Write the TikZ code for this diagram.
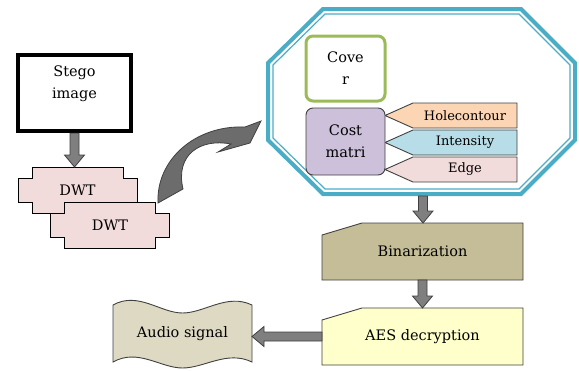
\documentclass[tikz,border=0pt]{standalone}
\usepackage{fontspec}
\setmainfont{DejaVu Serif}
\usetikzlibrary{positioning,calc,backgrounds}

\definecolor{dwtpink}{HTML}{F2DCDB}
\definecolor{octblue}{HTML}{4BACC6}
\definecolor{covergreen}{HTML}{9BBB59}
\definecolor{costlilac}{HTML}{CCC0DA}
\definecolor{tagorange}{HTML}{FCD5B5}
\definecolor{tagblue}{HTML}{B7DEE8}
\definecolor{binbrown}{HTML}{C4BD97}
\definecolor{aesyellow}{HTML}{FFFFCC}
\definecolor{audiobeige}{HTML}{DDD9C3}
\definecolor{arrowgrey}{HTML}{7F7F7F}
\definecolor{edgegrey}{HTML}{404040}

% block arrows between two named points
\newcommand\blockdown[2]{%
  \filldraw[blockarrow] let \p1=#1, \p2=#2 in
    (\x1-4.5pt,\y1) -- (\x1+4.5pt,\y1) -- (\x1+4.5pt,\y2+12pt) -- (\x1+10pt,\y2+12pt)
    -- (\x1,\y2) -- (\x1-10pt,\y2+12pt) -- (\x1-4.5pt,\y2+12pt) -- cycle;}
\newcommand\blockleft[2]{%
  \filldraw[blockarrow] let \p1=#1, \p2=#2 in
    (\x1,\y1+4.5pt) -- (\x2+12pt,\y1+4.5pt) -- (\x2+12pt,\y1+10pt) -- (\x2,\y1)
    -- (\x2+12pt,\y1-10pt) -- (\x2+12pt,\y1-4.5pt) -- (\x1,\y1-4.5pt) -- cycle;}
% outlines drawn round the nodes
\newcommand\notchpath[1]{([xshift=14pt]#1.north west) -- ([xshift=-14pt]#1.north east)
  -- ++(0,11) -- ++(14,0) -- ([yshift=11pt]#1.south east) -- ++(-14,0)
  -- ([xshift=-14pt]#1.south east) -- ([xshift=14pt]#1.south west) -- ++(0,-11)
  -- ++(-14,0) -- ([yshift=-11pt]#1.north west) -- ++(14,0) -- cycle}
\newcommand\cardpath[1]{([yshift=-12pt]#1.north west) -- ([xshift=40pt]#1.north west)
  -- (#1.north east) -- (#1.south east) -- (#1.south west) -- cycle}
\newcommand\tagpath[1]{(#1.north west) -- (#1.north east) -- (#1.south east)
  -- (#1.south west) -- ([xshift=-28pt]#1.west) -- cycle}

\begin{document}
\begin{tikzpicture}[x=1pt,y=-1pt,
    every node/.style={outer sep=0pt,inner sep=2pt,font=\fontsize{14.5}{22}\selectfont,align=center},
    stegobox/.style={draw,line width=4.5pt,outer sep=2.25pt,minimum width=113pt,minimum height=76pt},
    dwtbox/.style={minimum width=119pt,minimum height=46pt},
    roundbox/.style={rounded corners=7pt,minimum width=79pt},
    tagbox/.style={minimum width=104pt,minimum height=25pt,font=\fontsize{13}{15}\selectfont},
    cardbox/.style={minimum width=201pt,minimum height=57pt},
    shapeline/.style={draw=edgegrey,line width=0.9pt},
    blockarrow/.style={draw=edgegrey,fill=arrowgrey,line width=0.8pt},
    octline/.style={draw=octblue,line join=miter}]

  \useasboundingbox (0,0) rectangle (579,370);

  \node[stegobox] (stego) at (74.5,93) {};
  \node[below=11pt of stego.north] (stegotxt) {Stego\\image};

  \node[dwtbox] (dwt1) at (77.5,190) {DWT};
  \node[dwtbox] (dwt2) at (110,225) {DWT};

  \draw[octline,line width=4pt] (323,9) -- (521,9) -- (575,63) -- (575,140)
    -- (521,194) -- (323,194) -- (268,140) -- (268,63) -- cycle;
  \draw[octline,line width=1.2pt] (325,14) -- (519,14) -- (570,65) -- (570,138)
    -- (519,189) -- (325,189) -- (273,138) -- (273,65) -- cycle;
  \coordinate (frame) at (423,196);

  \node[roundbox,draw=covergreen,line width=3pt,fill=white,minimum height=65pt]
    (cover) at (345.5,68.5) {Cove\\r};
  \node[roundbox,draw=edgegrey,line width=0.9pt,fill=costlilac,minimum height=67pt,
    below=7pt of cover] (cost) {Cost\\matri};

  \node[tagbox] (hole) at (465,115.5) {Holecontour};
  \node[tagbox,below=2pt of hole] (inten) {Intensity};
  \node[tagbox,below=2pt of inten] (edge) {Edge};

  \node[cardbox] (bin) at (422.5,251.5) {Binarization};
  \node[cardbox] (aes) at (422.5,336.5) {AES decryption};
  \node[minimum width=139pt,minimum height=57pt] (audio) at (182.5,333.5) {Audio signal};

  \begin{scope}[on background layer]
    \draw[draw=black,line width=0.9pt,fill=dwtpink] \notchpath{dwt1};
    \draw[draw=black,line width=0.9pt,fill=dwtpink] \notchpath{dwt2};
    \draw[shapeline,fill=tagorange] \tagpath{hole};
    \draw[shapeline,fill=tagblue] \tagpath{inten};
    \draw[shapeline,fill=dwtpink] \tagpath{edge};
    \draw[shapeline,fill=binbrown] \cardpath{bin};
    \draw[shapeline,fill=aesyellow] \cardpath{aes};
    \draw[shapeline,fill=audiobeige] (audio.north west)
      .. controls +(25,-14) and +(-22,0) .. ([yshift=-8pt]audio.north)
      .. controls +(22,0) and +(-25,-12) .. (audio.north east)
      -- (audio.south east)
      .. controls +(-25,-12) and +(22,0) .. ([yshift=-6pt]audio.south)
      .. controls +(-22,0) and +(25,-14) .. (audio.south west) -- cycle;
  \end{scope}

  \blockdown{(stego.south)}{(dwt1.north)}
  \blockdown{(frame)}{(bin.north)}
  \blockdown{(bin.south)}{(aes.north)}
  \blockleft{(aes.west)}{(audio.east)}

  \filldraw[blockarrow,fill=arrowgrey!85!black] (158,203) .. controls (156,160) and (195,125) .. (245,127)
    -- (261,121) -- (250,143) -- (218,152) -- (231,144)
    .. controls (200,138) and (175,155) .. (183,189) -- cycle;
\end{tikzpicture}
\end{document}
